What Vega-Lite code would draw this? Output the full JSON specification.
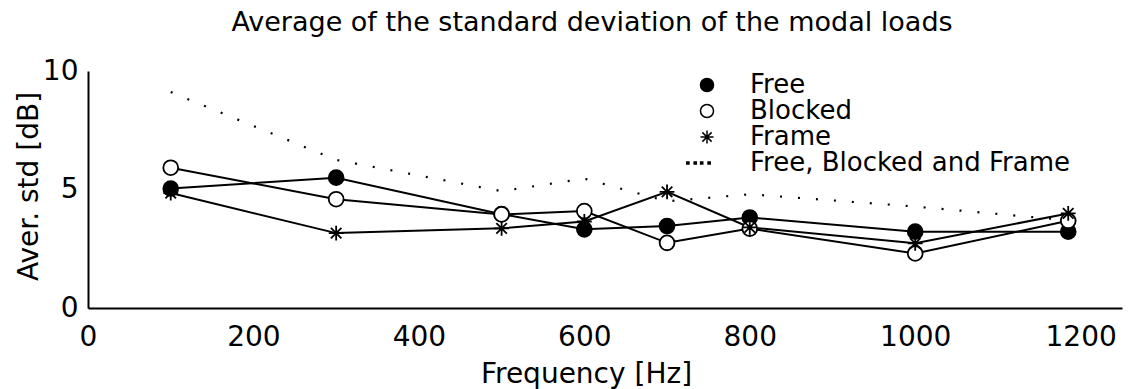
{
  "$schema": "https://vega.github.io/schema/vega-lite/v6.json",
  "width": 1034,
  "height": 237,
  "autosize": "none",
  "padding": {"left": 88, "top": 71, "right": 7, "bottom": 81},
  "background": "white",
  "config": {"view": {"stroke": null}, "font": "DejaVu Sans"},
  "title": {"text": "Average of the standard deviation of the modal loads", "fontSize": 27, "fontWeight": "normal", "font": "DejaVu Sans", "color": "black", "offset": 20, "dx": -13, "anchor": "middle", "frame": "group"},
  "datasets": {
    "series": [
      {"f": 100, "v": 5.04, "s": "Free"},
      {"f": 300, "v": 5.5, "s": "Free"},
      {"f": 500, "v": 3.96, "s": "Free"},
      {"f": 600, "v": 3.32, "s": "Free"},
      {"f": 700, "v": 3.46, "s": "Free"},
      {"f": 800, "v": 3.82, "s": "Free"},
      {"f": 1000, "v": 3.22, "s": "Free"},
      {"f": 1185, "v": 3.22, "s": "Free"},
      {"f": 100, "v": 5.92, "s": "Blocked"},
      {"f": 300, "v": 4.59, "s": "Blocked"},
      {"f": 500, "v": 3.95, "s": "Blocked"},
      {"f": 600, "v": 4.09, "s": "Blocked"},
      {"f": 700, "v": 2.75, "s": "Blocked"},
      {"f": 800, "v": 3.35, "s": "Blocked"},
      {"f": 1000, "v": 2.3, "s": "Blocked"},
      {"f": 1185, "v": 3.68, "s": "Blocked"},
      {"f": 100, "v": 4.85, "s": "Frame"},
      {"f": 300, "v": 3.16, "s": "Frame"},
      {"f": 500, "v": 3.36, "s": "Frame"},
      {"f": 600, "v": 3.65, "s": "Frame"},
      {"f": 700, "v": 4.9, "s": "Frame"},
      {"f": 800, "v": 3.4, "s": "Frame"},
      {"f": 1000, "v": 2.73, "s": "Frame"},
      {"f": 1185, "v": 3.99, "s": "Frame"},
      {"f": 100, "v": 9.11, "s": "Free, Blocked and Frame"},
      {"f": 300, "v": 6.25, "s": "Free, Blocked and Frame"},
      {"f": 500, "v": 4.93, "s": "Free, Blocked and Frame"},
      {"f": 600, "v": 5.46, "s": "Free, Blocked and Frame"},
      {"f": 700, "v": 4.5, "s": "Free, Blocked and Frame"},
      {"f": 800, "v": 4.8, "s": "Free, Blocked and Frame"},
      {"f": 1000, "v": 4.28, "s": "Free, Blocked and Frame"},
      {"f": 1185, "v": 3.7, "s": "Free, Blocked and Frame"}
    ],
    "xticks": [{"f": 200}, {"f": 400}, {"f": 600}, {"f": 800}, {"f": 1000}, {"f": 1200}],
    "yticks": [{"v": 5}, {"v": 10}]
  },
  "data": {"name": "series"},
  "encoding": {
    "x": {"field": "f", "type": "quantitative",
      "scale": {"domain": [0, 1250], "nice": false, "zero": false},
      "axis": {"values": [0, 200, 400, 600, 800, 1000, 1200], "format": "d", "title": "Frequency [Hz]", "grid": false,
        "domainColor": "black", "domainWidth": 2, "ticks": false, "tickSize": 0,
        "labelPadding": 15, "labelFontSize": 28, "labelColor": "black", "labelFont": "DejaVu Sans", "labelFlush": false,
        "titleFontSize": 28, "titleFontWeight": "normal", "titleColor": "black", "titleFont": "DejaVu Sans",
        "titleX": 498, "titleY": 74, "titleBaseline": "alphabetic", "titleAlign": "center"}},
    "y": {"field": "v", "type": "quantitative",
      "scale": {"domain": [0, 10], "nice": false, "zero": false},
      "axis": {"values": [0, 5, 10], "format": "d", "title": "Aver. std [dB]", "grid": false,
        "domainColor": "black", "domainWidth": 2, "ticks": false, "tickSize": 0,
        "labelPadding": 10, "labelFontSize": 28, "labelColor": "black", "labelFont": "DejaVu Sans", "labelFlush": false,
        "titleFontSize": 28, "titleFontWeight": "normal", "titleColor": "black", "titleFont": "DejaVu Sans",
        "titleX": -51, "titleY": 115, "titleAngle": 270, "titleBaseline": "alphabetic", "titleAlign": "center"}}
  },
  "layer": [
    {
      "data": {"name": "xticks"},
      "mark": {"type": "rule", "color": "black", "strokeWidth": 1.5},
      "encoding": {"x": {"field": "f", "type": "quantitative"}, "y": {"datum": 0}, "y2": {"datum": 0.42}}
    },
    {
      "data": {"name": "yticks"},
      "mark": {"type": "rule", "color": "black", "strokeWidth": 1.5},
      "encoding": {"y": {"field": "v", "type": "quantitative"}, "x": {"datum": 0}, "x2": {"datum": 12}}
    },
    {
      "transform": [{"filter": "datum.s !== 'Free, Blocked and Frame'"}],
      "mark": {"type": "line", "color": "black", "strokeWidth": 2},
      "encoding": {"detail": {"field": "s", "type": "nominal"}}
    },
    {
      "transform": [{"filter": "datum.s === 'Free, Blocked and Frame'"}],
      "mark": {"type": "line", "color": "black", "strokeWidth": 2.2, "strokeDash": [2, 16], "strokeCap": "butt"},
      "encoding": {}
    },
    {
      "transform": [{"filter": "datum.s !== 'Free, Blocked and Frame'"}],
      "mark": {"type": "point", "filled": true, "stroke": "black", "strokeWidth": 1.8, "size": 220, "opacity": 1},
      "encoding": {
        "shape": {"field": "s", "type": "nominal",
          "scale": {"domain": ["Free", "Blocked", "Frame", "Free, Blocked and Frame"],
            "range": ["circle", "circle", "M-1,0L1,0M0,-1L0,1M-0.71,-0.71L0.71,0.71M-0.71,0.71L0.71,-0.71",
              "M-3.1,-0.16h0.33v0.33h-0.33zM-1.97,-0.16h0.33v0.33h-0.33zM-0.98,-0.16h0.33v0.33h-0.33zM0.16,-0.16h0.33v0.33h-0.33z"]},
          "legend": {"orient": "none", "legendX": 606, "legendY": 1, "title": null,
            "labelFontSize": 26, "labelFont": "DejaVu Sans", "labelColor": "black", "labelOffset": 30, "labelLimit": 600,
            "symbolSize": 170, "rowPadding": 0, "padding": 0,
            "encode": {"symbols": {"update": {"stroke": {"value": "black"}, "strokeWidth": {"value": 1.5}, "opacity": {"value": 1}}}}}},
        "fill": {"field": "s", "type": "nominal",
          "scale": {"domain": ["Free", "Blocked", "Frame", "Free, Blocked and Frame"],
            "range": ["black", "white", "black", "black"]},
          "legend": {"orient": "none", "legendX": 606, "legendY": 1, "title": null,
            "labelFontSize": 26, "labelFont": "DejaVu Sans", "labelColor": "black", "labelOffset": 30, "labelLimit": 600,
            "symbolSize": 170, "rowPadding": 0, "padding": 0,
            "encode": {"symbols": {"update": {"stroke": {"value": "black"}, "strokeWidth": {"value": 1.5}, "opacity": {"value": 1}}}}}}
      }
    }
  ]
}
